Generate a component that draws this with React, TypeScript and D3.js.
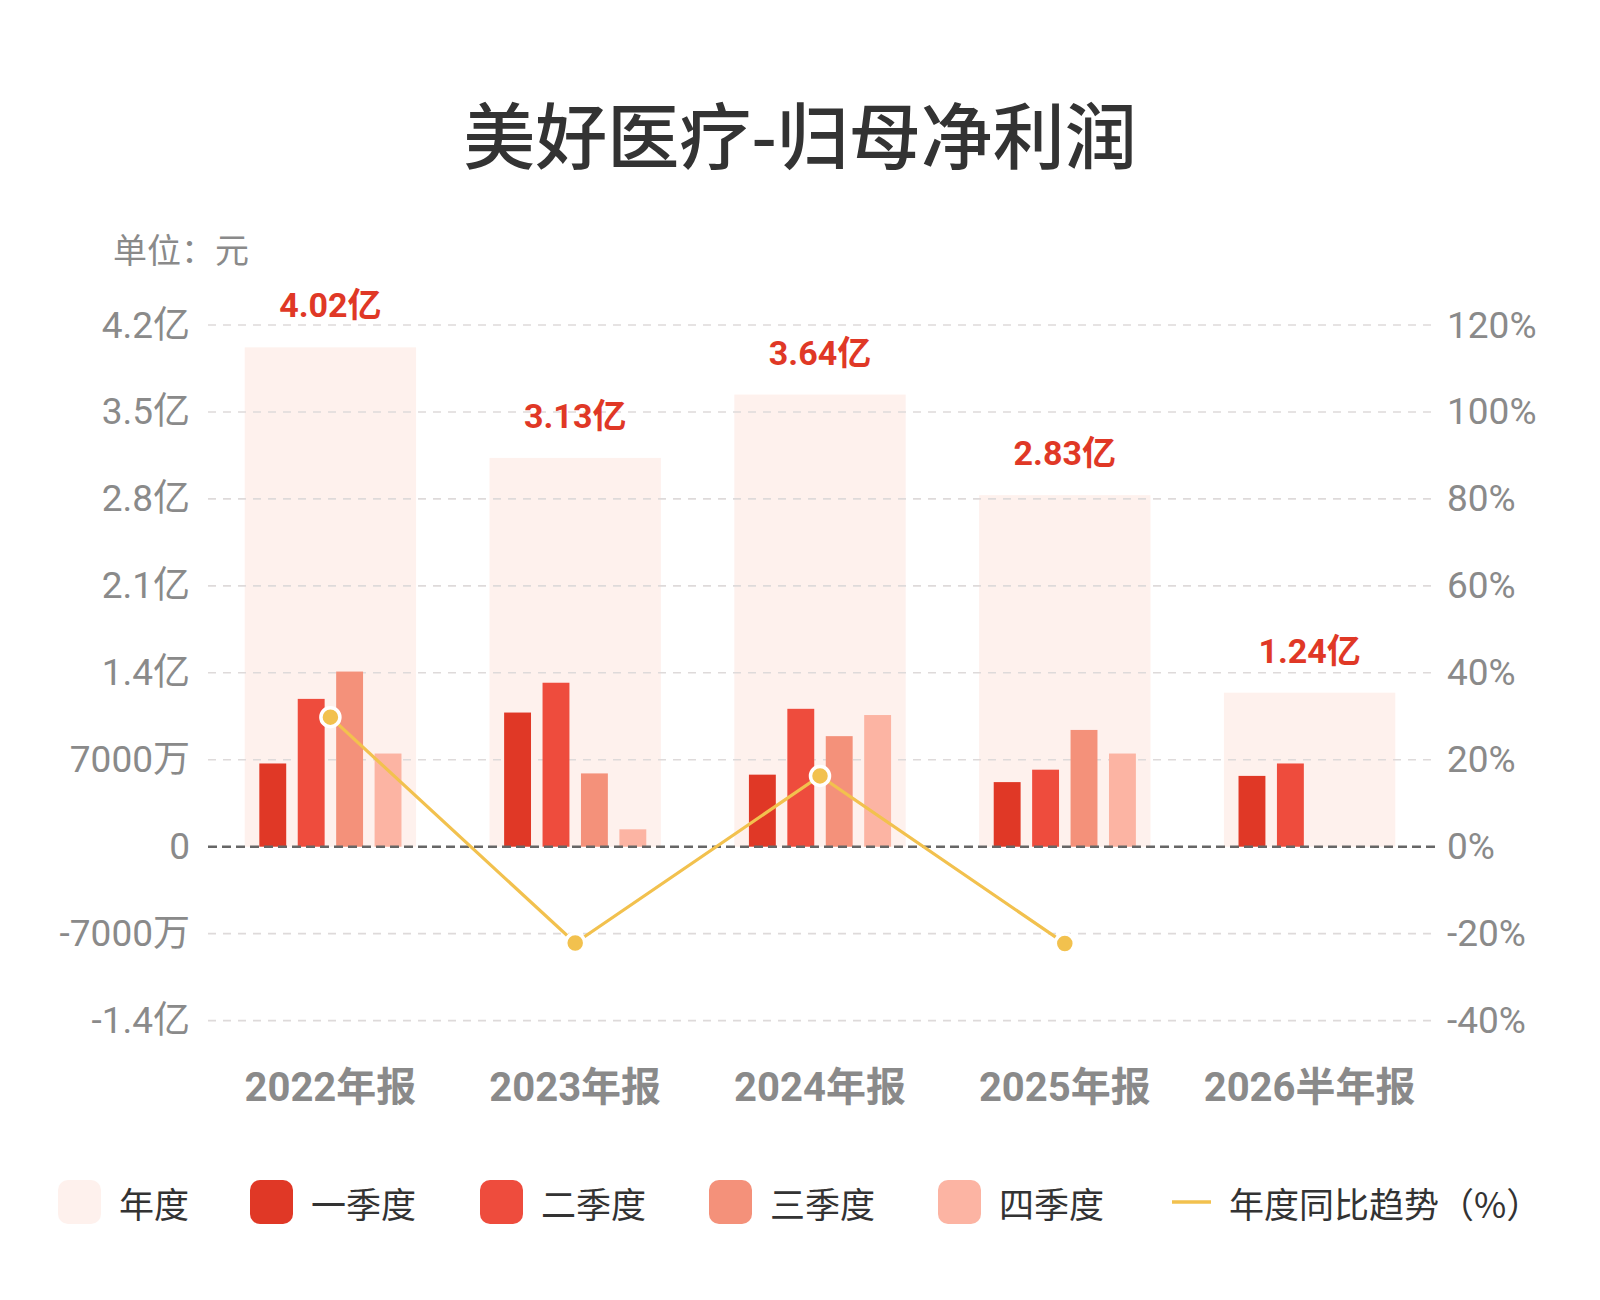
import * as d3 from 'd3';

// 美好医疗 归母净利润, 单位: 元
const categories = ['2022年报', '2023年报', '2024年报', '2025年报', '2026半年报'];
const annual = [4.02e8, 3.13e8, 3.64e8, 2.83e8, 1.24e8];
const q1 = [0.67e8, 1.08e8, 0.58e8, 0.52e8, 0.57e8];
const q2 = [1.19e8, 1.32e8, 1.11e8, 0.62e8, 0.67e8];
const q3 = [1.41e8, 0.59e8, 0.89e8, 0.94e8, null];
const q4 = [0.75e8, 0.14e8, 1.06e8, 0.75e8, null];
const yoy: (number | null)[] = [29.8, -22.14, 16.29, -22.25, null];

const yTicks = [-1.4e8, -0.7e8, 0, 0.7e8, 1.4e8, 2.1e8, 2.8e8, 3.5e8, 4.2e8];
const yRightTicks = [-40, -20, 0, 20, 40, 60, 80, 100, 120];

const quarters = ['一季度', '二季度', '三季度', '四季度'];
const quarterColors = ['#E03826', '#EE4C3D', '#F4917A', '#FCB4A3'];
const bandColor = '#FEF1ED';
const lineColor = '#F2C14E';

const W = 1600;
const H = 1300;
const PLOT = { left: 208, right: 1432, top: 325, bottom: 1020.6 };

const NUM_FONT = "Roboto, 'Noto Sans CJK SC', sans-serif";
const CJK_FONT = "'Noto Sans CJK SC', sans-serif";

const fmtYuan = (v: number) => {
    if (v === 0) return '0';
    if (Math.abs(v) >= 1e8) return `${+(v / 1e8).toFixed(2)}亿`;
    return `${+(v / 1e4).toFixed(0)}万`;
};

const App = () => {
    const x = d3.scaleBand().domain(categories).range([PLOT.left, PLOT.right]).paddingInner(0.3).paddingOuter(0.15);
    const xq = d3.scaleBand().domain(quarters).range([0, x.bandwidth()]).paddingInner(0.3).paddingOuter(0.38);
    const y = d3.scaleLinear().domain([-1.4e8, 4.2e8]).range([PLOT.bottom, PLOT.top]);
    const yR = d3.scaleLinear().domain([-40, 120]).range([PLOT.bottom, PLOT.top]);

    const series = [q1, q2, q3, q4];
    const cx = (c: string) => x(c)! + x.bandwidth() / 2;

    const linePath = d3
        .line<number | null>()
        .defined((d) => d !== null)
        .x((_, i) => cx(categories[i]))
        .y((d) => yR(d as number))(yoy);

    // legend layout
    const legendX = [58, 250, 480, 709, 938, 1172];
    const legendY = 1202;
    const legendItems = [{ name: '年度', color: bandColor }, ...quarters.map((q, i) => ({ name: q, color: quarterColors[i] }))];

    return (
        <svg width={W} height={H} style={{ position: 'absolute', left: 0, top: 0, background: '#fff' }}>
            <rect width={W} height={H} fill="#fff" />
            <text x={800} y={131} textAnchor="middle" dominantBaseline="central" fontFamily={CJK_FONT} fontSize={72} fontWeight={500} fill="#333">
                美好医疗-归母净利润
            </text>
            <text x={113} y={248} dominantBaseline="central" fontFamily={CJK_FONT} fontSize={34} fill="#8a8a8a">
                单位：元
            </text>

            {/* annual background bands */}
            {categories.map((c, i) => (
                <rect key={c} x={x(c)} width={x.bandwidth()} y={y(annual[i])} height={y(0) - y(annual[i])} fill={bandColor} />
            ))}

            {/* grid */}
            {yTicks
                .filter((t) => t !== 0)
                .map((t) => (
                    <line key={t} x1={PLOT.left} x2={PLOT.right + 4} y1={y(t)} y2={y(t)} stroke="#dedada" strokeWidth={1.6} strokeDasharray="8 7" />
                ))}

            {/* quarter bars */}
            {categories.map((c, i) => (
                <g key={c} transform={`translate(${x(c)},0)`}>
                    {series.map((s, j) =>
                        s[i] === null ? null : (
                            <rect key={j} x={xq(quarters[j])} width={xq.bandwidth()} y={y(s[i] as number)} height={y(0) - y(s[i] as number)} fill={quarterColors[j]} />
                        )
                    )}
                </g>
            ))}

            <line x1={PLOT.left} x2={PLOT.right + 4} y1={y(0)} y2={y(0)} stroke="#666" strokeWidth={2.4} strokeDasharray="9 5" />

            {/* annual value labels */}
            {categories.map((c, i) => (
                <text key={c} x={cx(c)} y={y(annual[i]) - 30} textAnchor="middle" fontFamily={NUM_FONT} fontSize={34} fontWeight={700} fill="#E03826">
                    {`${(annual[i] / 1e8).toFixed(2)}亿`}
                </text>
            ))}

            {/* yoy line */}
            <path d={linePath ?? ''} fill="none" stroke={lineColor} strokeWidth={3.2} />
            {yoy.map((v, i) =>
                v === null ? null : <circle key={i} cx={cx(categories[i])} cy={yR(v)} r={9.5} fill={lineColor} stroke="#fff" strokeWidth={3.5} />
            )}

            {/* axes labels */}
            {yTicks.map((t) => (
                <text key={t} x={190} y={y(t)} textAnchor="end" dominantBaseline="central" fontFamily={NUM_FONT} fontSize={37} fill="#8a8a8a">
                    {fmtYuan(t)}
                </text>
            ))}
            {yRightTicks.map((t) => (
                <text key={t} x={1447} y={yR(t)} dominantBaseline="central" fontFamily={NUM_FONT} fontSize={37} fill="#8a8a8a">
                    {`${t}%`}
                </text>
            ))}
            {categories.map((c) => (
                <text key={c} x={cx(c)} y={1087} textAnchor="middle" dominantBaseline="central" fontFamily={NUM_FONT} fontSize={40} fontWeight={700} fill="#8a8a8a">
                    {c}
                </text>
            ))}

            {/* legend */}
            {legendItems.map((d, i) => (
                <g key={d.name} transform={`translate(${legendX[i]},${legendY})`}>
                    <rect x={0} y={-22} width={43} height={44} rx={10} fill={d.color} />
                    <text x={61} y={0} dominantBaseline="central" fontFamily={CJK_FONT} fontSize={35} fill="#333">
                        {d.name}
                    </text>
                </g>
            ))}
            <g transform={`translate(${legendX[5]},${legendY})`}>
                <line x1={0} x2={39} y1={0} y2={0} stroke={lineColor} strokeWidth={3.5} />
                <text x={57} y={0} dominantBaseline="central" fontFamily={CJK_FONT} fontSize={35} fill="#333">
                    年度同比趋势（%）
                </text>
            </g>
        </svg>
    );
};

export default App;
